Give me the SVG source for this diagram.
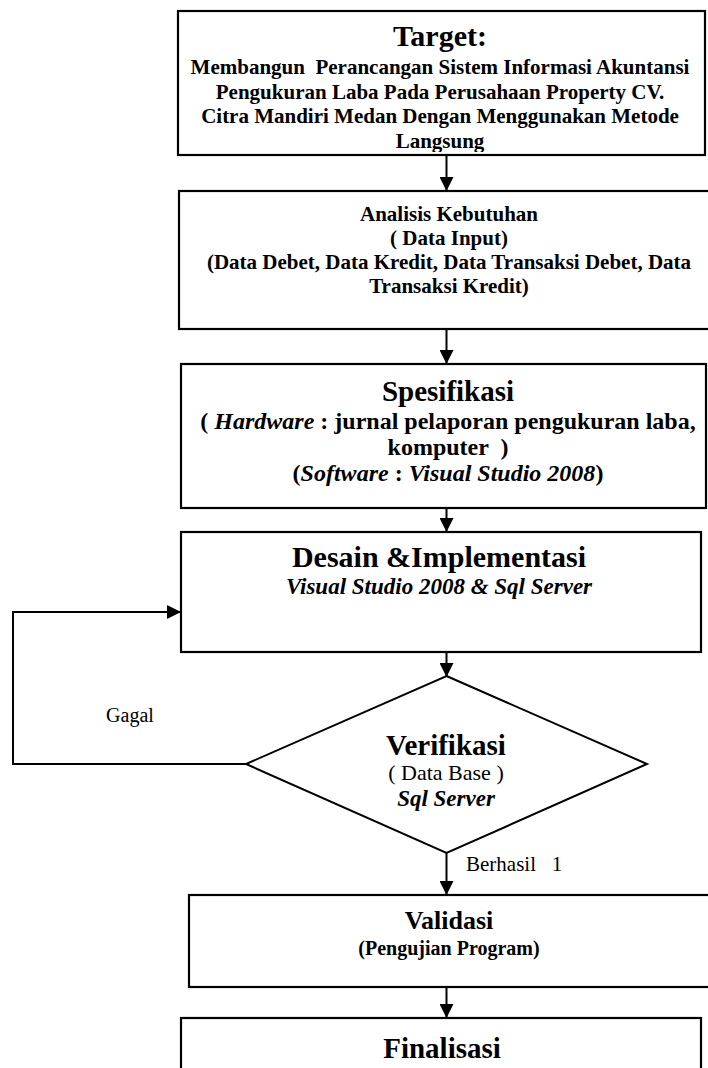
<svg xmlns="http://www.w3.org/2000/svg" width="708" height="1068" viewBox="0 0 708 1068">
<style>
.box{fill:#fff;stroke:#000;stroke-width:2.2}
.ln{fill:none;stroke:#000;stroke-width:2}
.t{font-family:"Liberation Serif","Times New Roman",serif;fill:#000;text-anchor:middle}
.b{font-weight:bold}
.i{font-style:italic}
</style>
<defs>
<marker id="ah" viewBox="0 0 14 14" refX="13" refY="7" markerWidth="14" markerHeight="14" markerUnits="userSpaceOnUse" orient="auto">
<path d="M0,0 L14,7 L0,14 Z" fill="#000"/>
</marker>
<clipPath id="c1"><rect x="179" y="12" width="524" height="140"/></clipPath>
</defs>
<rect width="708" height="1068" fill="#fff"/>
<g id="connectors">
<line class="ln" x1="446.5" y1="155" x2="446.5" y2="190" marker-end="url(#ah)"/>
<line class="ln" x1="446.5" y1="329" x2="446.5" y2="363" marker-end="url(#ah)"/>
<line class="ln" x1="446.5" y1="508" x2="446.5" y2="531" marker-end="url(#ah)"/>
<line class="ln" x1="446.5" y1="652" x2="446.5" y2="676" marker-end="url(#ah)"/>
<polyline class="ln" points="246,764 13,764 13,612 180,612" marker-end="url(#ah)"/>
<line class="ln" x1="446.5" y1="853" x2="446.5" y2="894" marker-end="url(#ah)"/>
<line class="ln" x1="446.5" y1="987" x2="446.5" y2="1017" marker-end="url(#ah)"/>
<text class="t" x="130" y="722" font-size="20">Gagal</text>
<text class="t" x="466" y="871" font-size="21" style="text-anchor:start;white-space:pre">Berhasil   1</text>
</g>
<g id="target">
<rect class="box" x="178" y="11" width="527" height="144"/>
<g clip-path="url(#c1)">
<text class="t b" x="440" y="46" font-size="30">Target:</text>
<text class="t b" font-size="21" style="white-space:pre"><tspan x="440" y="74">Membangun  Perancangan Sistem Informasi Akuntansi</tspan><tspan x="440" y="98.5">Pengukuran Laba Pada Perusahaan Property CV.</tspan><tspan x="440" y="123">Citra Mandiri Medan Dengan Menggunakan Metode</tspan><tspan x="440" y="148">Langsung</tspan></text>
</g>
</g>
<g id="analisis">
<rect class="box" x="179" y="191" width="533" height="138"/>
<text class="t b" font-size="21"><tspan x="449" y="221">Analisis Kebutuhan</tspan><tspan x="449" y="245">( Data Input)</tspan><tspan x="449" y="269">(Data Debet, Data Kredit, Data Transaksi Debet, Data</tspan><tspan x="449" y="293">Transaksi Kredit)</tspan></text>
</g>
<g id="spesifikasi">
<rect class="box" x="181" y="364" width="525" height="144"/>
<text class="t b" x="448" y="401" font-size="29">Spesifikasi</text>
<text class="t b" font-size="24" style="white-space:pre"><tspan x="448" y="429">( <tspan class="i">Hardware</tspan> : jurnal pelaporan pengukuran laba,</tspan><tspan x="448" y="455">komputer  )</tspan><tspan x="448" y="481">(<tspan class="i">Software</tspan> : <tspan class="i">Visual Studio 2008</tspan>)</tspan></text>
</g>
<g id="desain">
<rect class="box" x="181" y="532" width="520" height="120"/>
<text class="t b" x="439" y="567" font-size="30">Desain &amp;Implementasi</text>
<text class="t b i" x="439" y="594" font-size="23">Visual Studio 2008 &amp; Sql Server</text>
</g>
<g id="verifikasi">
<polygon class="ln" points="446.5,676 647,764 446.5,853 246,764" style="fill:#fff"/>
<text class="t b" x="446" y="755" font-size="29">Verifikasi</text>
<text class="t" x="446" y="780" font-size="22">( Data Base )</text>
<text class="t b i" x="446" y="806" font-size="23">Sql Server</text>
</g>
<g id="validasi">
<rect class="box" x="189" y="895" width="523" height="92"/>
<text class="t b" x="449" y="929" font-size="26">Validasi</text>
<text class="t b" x="449" y="955" font-size="20">(Pengujian Program)</text>
</g>
<g id="finalisasi">
<rect class="box" x="181" y="1018" width="520" height="70"/>
<text class="t b" x="442" y="1058" font-size="29">Finalisasi</text>
</g>
</svg>
